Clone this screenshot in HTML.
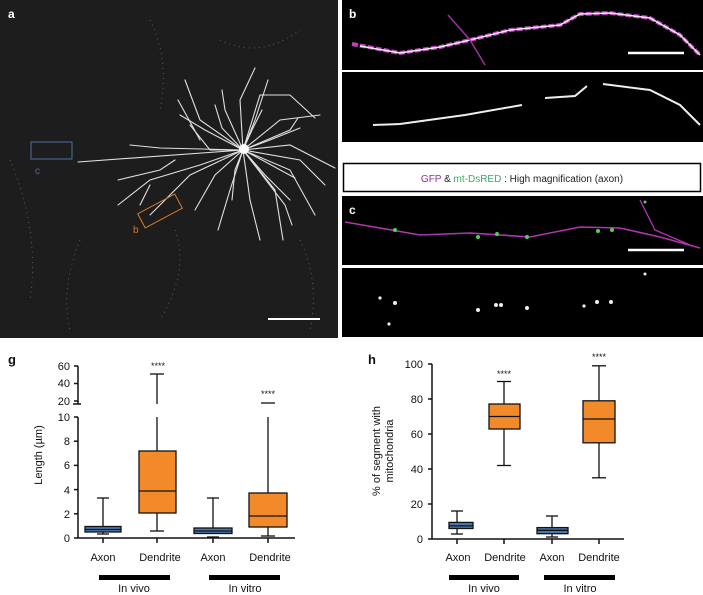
<!DOCTYPE html>
<html><head><meta charset="utf-8"><style>
html,body{margin:0;padding:0;background:#fff;}
body{width:703px;height:595px;overflow:hidden;position:relative;font-family:"Liberation Sans",Arial,sans-serif;}
</style></head><body>
<svg width="703" height="595" viewBox="0 0 703 595" xmlns="http://www.w3.org/2000/svg" style="position:absolute;left:0;top:0">
<!-- panel a -->
<rect x="0" y="0" width="338" height="338" fill="#1d1d1d"/>
<g stroke="#6a6a6a" stroke-width="0.8" stroke-dasharray="1 4" fill="none">
<path d="M150 20 Q170 60 160 110"/><path d="M10 160 Q40 230 30 300"/><path d="M175 230 Q190 270 160 320"/><path d="M80 240 Q60 290 70 330"/><path d="M300 240 Q320 280 310 330"/><path d="M220 40 Q260 60 300 30"/>
</g>
<g stroke="#e0e0e0" stroke-width="1.1" fill="none" stroke-linecap="round">
<path d="M243 150 L78 162"/><path d="M243 150 L160 148 L130 145"/>
<path d="M243 150 L200 165 L150 180 L118 205"/><path d="M243 150 L190 175 L150 215"/>
<path d="M243 150 L200 120 L185 80"/><path d="M243 150 L225 110 L222 90"/>
<path d="M243 150 L240 100 L255 68"/><path d="M243 150 L255 120 L268 80"/>
<path d="M243 150 L280 120 L320 115"/><path d="M243 150 L290 145 L335 168"/>
<path d="M243 150 L290 170 L315 215"/><path d="M243 150 L275 190 L283 240"/>
<path d="M243 150 L250 200 L260 240"/><path d="M243 150 L230 190 L218 230"/>
<path d="M243 150 L215 175 L195 210"/><path d="M243 150 L205 130 L180 115"/>
<path d="M243 150 L260 95 L290 95 L315 118"/><path d="M243 150 L290 130 L298 118"/>
<path d="M243 150 L300 160 L325 185"/><path d="M243 150 L265 175 L290 200"/>
<path d="M175 160 L160 170 L118 180"/><path d="M200 140 L178 100"/>
<path d="M243 150 L210 150 L190 125"/><path d="M150 185 L140 205"/>
<path d="M243 150 L270 140 L300 128"/><path d="M243 150 L262 160 L295 178"/><path d="M243 150 L235 170 L232 200"/>
<path d="M243 150 L222 128 L215 105"/><path d="M243 150 L252 130 L262 110"/><path d="M243 150 L285 205 L292 225"/>
</g>
<circle cx="244" cy="149" r="5" fill="#fff"/>
<text x="8" y="18" font-size="12" font-weight="bold" fill="#fff">a</text>
<rect x="31" y="142" width="41" height="17" fill="none" stroke="#4a6fa5" stroke-width="1"/>
<text x="35" y="174" font-size="10" fill="#4a6fa5">c</text>
<g transform="rotate(-28 160 211)"><rect x="139" y="203" width="42" height="16" fill="none" stroke="#d87a2a" stroke-width="1"/></g>
<text x="133" y="233" font-size="10" fill="#d87a2a">b</text>
<line x1="268" y1="319" x2="320" y2="319" stroke="#fff" stroke-width="2"/>
<!-- panel b -->
<rect x="342" y="0" width="361" height="70" fill="#000"/>
<rect x="342" y="72" width="361" height="70" fill="#000"/>
<path d="M352 44 L400 53 L440 47 L470 40 L510 30 L560 25 L580 14 L610 13 L650 18 L680 35 L700 55" stroke="#c040c0" stroke-width="4" fill="none" stroke-dasharray="6 2"/>
<path d="M360 46 L400 53 L440 47 L470 40 L510 30 L560 25 L580 14 L610 13 L650 18 L680 35 L700 55" stroke="#f0f0f0" stroke-width="1.5" fill="none"/>
<path d="M448 15 L470 40 L485 65" stroke="#a030a0" stroke-width="1.5" fill="none"/>
<text x="349" y="18" font-size="12" font-weight="bold" fill="#fff">b</text>
<line x1="628" y1="53" x2="684" y2="53" stroke="#fff" stroke-width="2.5"/>
<path d="M373 125 L400 124 L465 115 L522 105" stroke="#eee" stroke-width="2" fill="none"/>
<path d="M545 98 L575 96 L587 86" stroke="#eee" stroke-width="2" fill="none"/>
<path d="M603 84 L650 90 L680 105 L700 125" stroke="#eee" stroke-width="2" fill="none"/>
<!-- label -->
<rect x="343.5" y="163.5" width="357" height="28" fill="#fff" stroke="#000" stroke-width="1.5"/>
<text x="522" y="182" font-size="10" text-anchor="middle" fill="#222"><tspan fill="#9a2f9a">GFP</tspan> &amp; <tspan fill="#3aa86a">mt-DsRED</tspan> : High magnification (axon)</text>
<!-- panel c -->
<rect x="342" y="196" width="361" height="69" fill="#000"/>
<rect x="342" y="268" width="361" height="69" fill="#000"/>
<path d="M345 222 L380 228 L420 235 L470 233 L530 237 L580 227 L620 228 L660 237 L700 248" stroke="#b035b0" stroke-width="1.6" fill="none"/>
<path d="M640 200 L655 230 L690 245" stroke="#b035b0" stroke-width="1.3" fill="none"/>
<g fill="#50d060"><circle cx="395" cy="230" r="2"/><circle cx="478" cy="237" r="2"/><circle cx="497" cy="234" r="2"/><circle cx="527" cy="237" r="2"/><circle cx="598" cy="231" r="2"/><circle cx="612" cy="230" r="2"/><circle cx="645" cy="202" r="1.5"/></g>
<text x="349" y="214" font-size="12" font-weight="bold" fill="#fff">c</text>
<line x1="628" y1="250" x2="684" y2="250" stroke="#fff" stroke-width="2.5"/>
<g fill="#eee"><circle cx="380" cy="298" r="1.6"/><circle cx="395" cy="303" r="2"/><circle cx="389" cy="324" r="1.6"/><circle cx="478" cy="310" r="2"/><circle cx="496" cy="305" r="2"/><circle cx="501" cy="305" r="2"/><circle cx="527" cy="308" r="2"/><circle cx="584" cy="306" r="1.6"/><circle cx="597" cy="302" r="2"/><circle cx="611" cy="302" r="2"/><circle cx="645" cy="274" r="1.5"/></g>

<!-- panel g -->
<g font-size="12" fill="#111">
<text x="8" y="364" font-size="13" font-weight="bold">g</text>
<g stroke="#111" stroke-width="1.5" fill="none">
<line x1="78" y1="366" x2="78" y2="404"/>
<line x1="73" y1="404" x2="81" y2="404"/>
<line x1="78" y1="417" x2="78" y2="538"/>
<line x1="78" y1="538" x2="295" y2="538"/>
<line x1="74" y1="366" x2="78" y2="366"/><line x1="74" y1="383.5" x2="78" y2="383.5"/><line x1="74" y1="401" x2="78" y2="401"/>
<line x1="74" y1="417" x2="78" y2="417"/><line x1="74" y1="441.2" x2="78" y2="441.2"/><line x1="74" y1="465.4" x2="78" y2="465.4"/><line x1="74" y1="489.6" x2="78" y2="489.6"/><line x1="74" y1="513.8" x2="78" y2="513.8"/><line x1="74" y1="538" x2="78" y2="538"/>
<line x1="103" y1="538" x2="103" y2="543"/><line x1="157" y1="538" x2="157" y2="543"/><line x1="213" y1="538" x2="213" y2="543"/><line x1="268" y1="538" x2="268" y2="543"/>
</g>
<g font-size="11" text-anchor="end">
<text x="70" y="370">60</text><text x="70" y="387">40</text><text x="70" y="405">20</text>
<text x="70" y="421">10</text><text x="70" y="445">8</text><text x="70" y="469">6</text><text x="70" y="494">4</text><text x="70" y="518">2</text><text x="70" y="542">0</text>
</g>
<text transform="translate(42 455) rotate(-90)" font-size="11" text-anchor="middle">Length (µm)</text>
<g stroke="#111" stroke-width="1.3">
<line x1="103" y1="498" x2="103" y2="528"/><line x1="97" y1="498" x2="109" y2="498"/><line x1="97" y1="534" x2="109" y2="534"/><line x1="103" y1="534" x2="103" y2="532"/>
<rect x="85" y="526.5" width="36" height="5.5" fill="#4a78b0"/><line x1="85" y1="529.5" x2="121" y2="529.5"/>
<line x1="157" y1="374" x2="157" y2="404"/><line x1="157" y1="417" x2="157" y2="451"/><line x1="150" y1="374" x2="164" y2="374"/>
<rect x="139" y="451" width="37" height="62" fill="#f38a2a"/><line x1="139" y1="491" x2="176" y2="491"/>
<line x1="157" y1="513" x2="157" y2="531"/><line x1="150" y1="531" x2="164" y2="531"/>
<line x1="213" y1="498" x2="213" y2="528"/><line x1="207" y1="498" x2="219" y2="498"/><line x1="207" y1="537" x2="219" y2="537"/>
<rect x="194" y="528" width="38" height="5.5" fill="#4a78b0"/><line x1="194" y1="531" x2="232" y2="531"/>
<line x1="268" y1="417" x2="268" y2="493"/><line x1="261" y1="403" x2="275" y2="403"/>
<rect x="249" y="493" width="38" height="34" fill="#f38a2a"/><line x1="249" y1="516" x2="287" y2="516"/>
<line x1="268" y1="527" x2="268" y2="536"/><line x1="261" y1="536" x2="275" y2="536"/>
</g>
<g font-size="9" text-anchor="middle"><text x="158" y="369">****</text><text x="268" y="397">****</text></g>
<g font-size="11" text-anchor="middle"><text x="103" y="561">Axon</text><text x="160" y="561">Dendrite</text><text x="213" y="561">Axon</text><text x="270" y="561">Dendrite</text>
<text x="134" y="592">In vivo</text><text x="245" y="592">In vitro</text></g>
<rect x="99" y="575" width="71" height="5" fill="#000"/><rect x="209" y="575" width="71" height="5" fill="#000"/>
</g>

<!-- panel h -->
<g font-size="12" fill="#111">
<text x="368" y="364" font-size="13" font-weight="bold">h</text>
<g stroke="#111" stroke-width="1.5">
<line x1="432" y1="364" x2="432" y2="539"/><line x1="432" y1="539" x2="624" y2="539"/>
<line x1="428" y1="364" x2="432" y2="364"/><line x1="428" y1="399" x2="432" y2="399"/><line x1="428" y1="434" x2="432" y2="434"/><line x1="428" y1="469" x2="432" y2="469"/><line x1="428" y1="504" x2="432" y2="504"/><line x1="428" y1="539" x2="432" y2="539"/>
<line x1="457" y1="539" x2="457" y2="544"/><line x1="504" y1="539" x2="504" y2="544"/><line x1="552" y1="539" x2="552" y2="544"/><line x1="599" y1="539" x2="599" y2="544"/>
</g>
<g font-size="11" text-anchor="end"><text x="423" y="368">100</text><text x="423" y="403">80</text><text x="423" y="438">60</text><text x="423" y="473">40</text><text x="423" y="508">20</text><text x="423" y="543">0</text></g>
<text transform="translate(380 451) rotate(-90)" font-size="11" text-anchor="middle">% of segment with</text>
<text transform="translate(393 451) rotate(-90)" font-size="11" text-anchor="middle">mitochondria</text>
<g stroke="#111" stroke-width="1.3">
<line x1="457" y1="511" x2="457" y2="534"/><line x1="451" y1="511" x2="463" y2="511"/><line x1="451" y1="534" x2="463" y2="534"/>
<rect x="449" y="522.4" width="24" height="6.1" fill="#4a78b0"/><line x1="449" y1="525.9" x2="473" y2="525.9"/>
<line x1="504" y1="381.5" x2="504" y2="465.5"/><line x1="497" y1="381.5" x2="511" y2="381.5"/><line x1="497" y1="465.5" x2="511" y2="465.5"/>
<rect x="489" y="404" width="31" height="25" fill="#f38a2a"/><line x1="489" y1="416.5" x2="520" y2="416.5"/>
<line x1="552" y1="516" x2="552" y2="537"/><line x1="546" y1="516" x2="558" y2="516"/><line x1="546" y1="537" x2="558" y2="537"/>
<rect x="537" y="527.6" width="31" height="6.1" fill="#4a78b0"/><line x1="537" y1="530.3" x2="568" y2="530.3"/>
<line x1="599" y1="365.8" x2="599" y2="477.8"/><line x1="592" y1="365.8" x2="606" y2="365.8"/><line x1="592" y1="477.8" x2="606" y2="477.8"/>
<rect x="583" y="400.8" width="32" height="42" fill="#f38a2a"/><line x1="583" y1="419" x2="615" y2="419"/>
</g>
<g font-size="9" text-anchor="middle"><text x="504" y="377">****</text><text x="599" y="360">****</text></g>
<g font-size="11" text-anchor="middle"><text x="458" y="561">Axon</text><text x="505" y="561">Dendrite</text><text x="552" y="561">Axon</text><text x="599" y="561">Dendrite</text>
<text x="484" y="592">In vivo</text><text x="580" y="592">In vitro</text></g>
<rect x="449" y="575" width="70" height="5" fill="#000"/><rect x="544" y="575" width="71" height="5" fill="#000"/>
</g>
</svg>
</body></html>
